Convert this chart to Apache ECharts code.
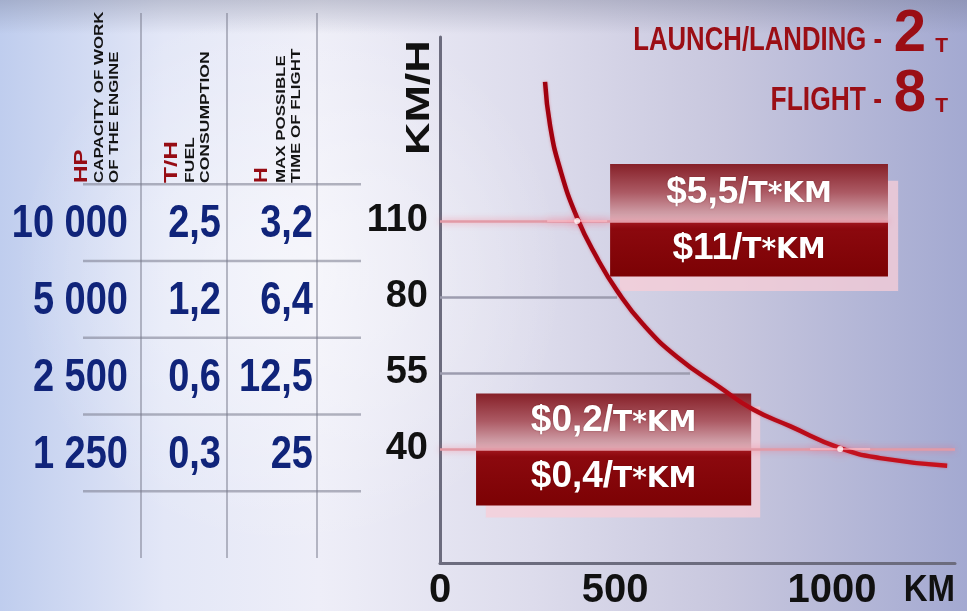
<!DOCTYPE html>
<html><head><meta charset="utf-8">
<script src="https://cdn.jsdelivr.net/npm/echarts@6/dist/echarts.min.js"></script>
<style>html,body{margin:0;padding:0;background:#dcdcec}#c{width:967px;height:611px}</style>
</head><body><div id="c"></div>
<script>
// ---------- data ----------
const speedLabels = ['40', '55', '80', '110'];          // KM/H tick labels (evenly spaced rows)
const speedRows = [1.5, 2.5, 3.5, 4.5];                  // row positions of those ticks
const distLabels = ['0', '500', '1000'];                 // KM tick labels
const distTicks = [0, 447, 1000];                        // where the (not-to-scale) labels sit
const curveKm = [268, 281, 306, 350, 401, 452, 518, 605, 714, 799, 893, 1021, 1123, 1294];
const curveRow = [6.33, 5.75, 5.19, 4.54, 4.01, 3.58, 3.14, 2.71, 2.31, 2.02, 1.80, 1.51, 1.38, 1.28];
const gridEndKm = [1314, 638, 452, 1143];                // where each speed gridline stops
const glintKm = [1021, 350];
const glintRow = [1.5, 4.5];
const enginePower = ['10 000', '5 000', '2 500', '1 250'];   // HP
const fuelUse = ['2,5', '1,2', '0,6', '0,3'];                 // T/H
const flightTime = ['3,2', '6,4', '12,5', '25'];              // H
const tableRows = [4.5, 3.5, 2.5, 1.5];
const priceFast = ['$5,5/', '$11/'];
const priceSlow = ['$0,2/', '$0,4/'];
const priceUnit = 'T*KM';

// ---------- layout ----------
const W = 967, H = 611;
const GL = 440, GT = 37, GR = 12, GB = 43;
const plotH = H - GT - GB;
const X_MAX = 1314, Y_MAX = 6.92;
const rowY = r => GT + plotH * (1 - r / Y_MAX);

const chart = echarts.init(document.getElementById('c'), null, {renderer: 'canvas'});
const LG = echarts.graphic.LinearGradient, RG = echarts.graphic.RadialGradient;
const FONT = '"Liberation Sans", Arial, sans-serif';

function txt(x, y, text, size, fill, align, valign, sx, sy, rot, lh) {
  const style = {text: text, fill: fill, font: 'bold ' + size + 'px ' + FONT,
    textAlign: align, textVerticalAlign: valign};
  if (lh) style.lineHeight = lh;
  return {type: 'text', x: x, y: y, z: 50, scaleX: sx || 1, scaleY: sy || 1, rotation: rot || 0, style: style};
}

const graphics = [];
// background
graphics.push({type: 'rect', z: -100, shape: {x: 0, y: 0, width: W, height: H},
  style: {fill: new LG(0, 0, 1, 0, [
    {offset: 0, color: '#bfcdee'}, {offset: 0.17, color: '#e3e7f7'}, {offset: 0.33, color: '#eeeef8'},
    {offset: 0.55, color: '#dddcec'}, {offset: 0.75, color: '#c8c7de'}, {offset: 1, color: '#a3a9d1'}])}});
graphics.push({type: 'rect', z: -99, shape: {x: 0, y: 0, width: W, height: H},
  style: {fill: new RG(0.3, 0.45, 0.45, [
    {offset: 0, color: 'rgba(255,255,255,0.5)'}, {offset: 1, color: 'rgba(255,255,255,0)'}])}});
graphics.push({type: 'rect', z: -98, shape: {x: 0, y: 0, width: W, height: 34},
  style: {fill: new LG(0, 0, 0, 1, [
    {offset: 0, color: 'rgba(105,110,135,0.32)'}, {offset: 1, color: 'rgba(105,110,135,0)'}])}});

// table grid
[1, 2, 3, 4, 5].forEach(r => graphics.push({type: 'line', z: 10,
  shape: {x1: 83, y1: rowY(r), x2: 361, y2: rowY(r)},
  style: {stroke: 'rgba(120,122,140,0.55)', lineWidth: 2.5}}));
[141, 227, 317].forEach(x => graphics.push({type: 'line', z: 10,
  shape: {x1: x, y1: 13, x2: x, y2: 558},
  style: {stroke: 'rgba(120,122,140,0.5)', lineWidth: 2}}));

// table headers (vertical)
const RED = '#960c14';
const R90 = Math.PI / 2;
graphics.push(txt(82, 183, 'HP', 18, RED, 'left', 'middle', 1.35, 1, R90));
graphics.push(txt(107, 183, 'CAPACITY OF WORK\nOF THE ENGINE', 13, '#141414', 'left', 'middle', 1.3, 1, R90, 15));
graphics.push(txt(172, 183, 'T/H', 18, RED, 'left', 'middle', 1.45, 1, R90));
graphics.push(txt(198, 183, 'FUEL\nCONSUMPTION', 13, '#141414', 'left', 'middle', 1.35, 1, R90, 15));
graphics.push(txt(262, 183, 'H', 18, RED, 'left', 'middle', 1.2, 1, R90));
graphics.push(txt(289, 183, 'MAX POSSIBLE\nTIME OF FLIGHT', 13, '#141414', 'left', 'middle', 1.3, 1, R90, 15));

// table values
const NAVY = '#10247a';
tableRows.forEach((r, i) => {
  const y = rowY(r) + 2;
  graphics.push(txt(128, y, enginePower[i], 38, NAVY, 'right', 'middle', 1, 1.22));
  graphics.push(txt(221, y, fuelUse[i], 38, NAVY, 'right', 'middle', 1, 1.22));
  graphics.push(txt(313, y, flightTime[i], 38, NAVY, 'right', 'middle', 1, 1.22));
});

// axis names
graphics.push(txt(420, 155, 'KM/H', 34, '#111', 'left', 'middle', 1.32, 1, R90));
graphics.push(txt(955, 591, 'KM', 33, '#111', 'right', 'middle', 1, 1.1));

// top-right legend text
const DRED = '#9b0e15';
graphics.push(txt(882, 41, 'LAUNCH/LANDING -', 33, DRED, 'right', 'middle', 0.78, 1.0));
graphics.push(txt(926, 35, '2', 58, DRED, 'right', 'middle', 1, 1.02));
graphics.push(txt(948, 46, 'T', 21, DRED, 'right', 'middle', 1, 1));
graphics.push(txt(882, 101, 'FLIGHT -', 33, DRED, 'right', 'middle', 0.8, 1.0));
graphics.push(txt(926, 95, '8', 58, DRED, 'right', 'middle', 1, 1.02));
graphics.push(txt(948, 106, 'T', 21, DRED, 'right', 'middle', 1, 1));

// ---------- boxes (annotations) ----------
const topFill = new LG(0, 0, 0, 1, [
  {offset: 0, color: '#862028'}, {offset: 0.5, color: '#ac5a64'}, {offset: 1, color: '#dcb6bf'}]);
const botFill = new LG(0, 0, 0, 1, [
  {offset: 0, color: '#8e0a10'}, {offset: 1, color: '#7c0204'}]);
const shadowFill = 'rgba(248,205,215,0.75)';
function priceLabel(p) {
  return {show: true, position: 'inside',
    formatter: () => '{big|' + p + '}{sm|' + priceUnit + '}',
    rich: {
      big: {fontSize: 37, fontWeight: 'bold', fontFamily: FONT, color: '#fff',
        textShadowColor: 'rgba(60,0,0,0.35)', textShadowBlur: 2},
      sm: {fontSize: 28, fontWeight: 'bold', fontFamily: '"DejaVu Sans", sans-serif', color: '#fff',
        textShadowColor: 'rgba(60,0,0,0.35)', textShadowBlur: 2, padding: [5, 0, 0, 0]}
    }};
}
const boxAreas = [
  [{coord: [459, 5.03], itemStyle: {color: shadowFill}}, {coord: [1169, 3.58]}],
  [{coord: [117, 2.06], itemStyle: {color: shadowFill}}, {coord: [817, 0.60]}],
  [{coord: [434, 5.25], itemStyle: {color: topFill}, label: priceLabel(priceFast[0])}, {coord: [1143, 4.5]}],
  [{coord: [434, 4.5], itemStyle: {color: botFill}, label: priceLabel(priceFast[1])}, {coord: [1143, 3.77]}],
  [{coord: [92, 2.23], itemStyle: {color: topFill}, label: priceLabel(priceSlow[0])}, {coord: [794, 1.5]}],
  [{coord: [92, 1.5], itemStyle: {color: botFill}, label: priceLabel(priceSlow[1])}, {coord: [794, 0.756]}]
];

const gridLines = speedRows.map((r, i) => {
  const glow = (i === 0 || i === 3);
  return [{coord: [0, r], lineStyle: glow ?
      {color: '#e29aa6', width: 2.5, type: 'solid', shadowBlur: 6, shadowColor: 'rgba(255,80,100,0.55)'} :
      {color: '#9d9caf', width: 2.5, type: 'solid'}},
    {coord: [gridEndKm[i], r]}];
});

const option = {
  animation: false,
  graphic: {elements: graphics},
  grid: {left: GL, top: GT, right: GR, bottom: GB, containLabel: false},
  xAxis: {type: 'value', min: 0, max: X_MAX,
    axisLine: {show: true, lineStyle: {color: '#6c6c7e', width: 3}},
    axisTick: {show: false}, splitLine: {show: false},
    axisLabel: {customValues: distTicks, margin: 8, color: '#111', fontSize: 40, fontWeight: 'bold', fontFamily: FONT,
      formatter: v => distLabels[distTicks.indexOf(v)]}},
  yAxis: {type: 'value', min: 0, max: Y_MAX,
    axisLine: {show: true, lineStyle: {color: '#6c6c7e', width: 3}},
    axisTick: {show: false}, splitLine: {show: false},
    axisLabel: {customValues: speedRows, margin: 12, color: '#111', fontSize: 38, fontWeight: 'bold', fontFamily: FONT,
      formatter: v => speedLabels[speedRows.indexOf(v)]}},
  series: [
    {type: 'line', z: 1, data: [], silent: true,
      markLine: {silent: true, symbol: 'none', label: {show: false}, data: gridLines}},
    {type: 'line', z: 2, data: [], silent: true,
      markArea: {silent: true, data: boxAreas}},
    {type: 'line', z: 5, smooth: 0.5, showSymbol: false, silent: true,
      data: curveKm.map((k, i) => [k, curveRow[i]]),
      lineStyle: {width: 4.5, color: new LG(0, 0, 1, 0, [{offset: 0, color: '#a0000e'}, {offset: 1, color: '#c8121e'}]),
        shadowBlur: 3, shadowColor: 'rgba(200,20,40,0.4)'}},
    {type: 'scatter', z: 6, silent: true, symbol: 'rect', symbolSize: [60, 2],
      data: glintKm.map((k, i) => [k, glintRow[i]]),
      itemStyle: {color: 'rgba(255,200,210,0.7)', shadowBlur: 8, shadowColor: 'rgba(255,60,90,0.7)'}},
    {type: 'scatter', z: 7, silent: true, symbolSize: 6,
      data: glintKm.map((k, i) => [k, glintRow[i]]),
      itemStyle: {color: '#ffffff', shadowBlur: 12, shadowColor: 'rgba(255,70,100,1)'}}
  ]
};
chart.setOption(option);
</script></body></html>
